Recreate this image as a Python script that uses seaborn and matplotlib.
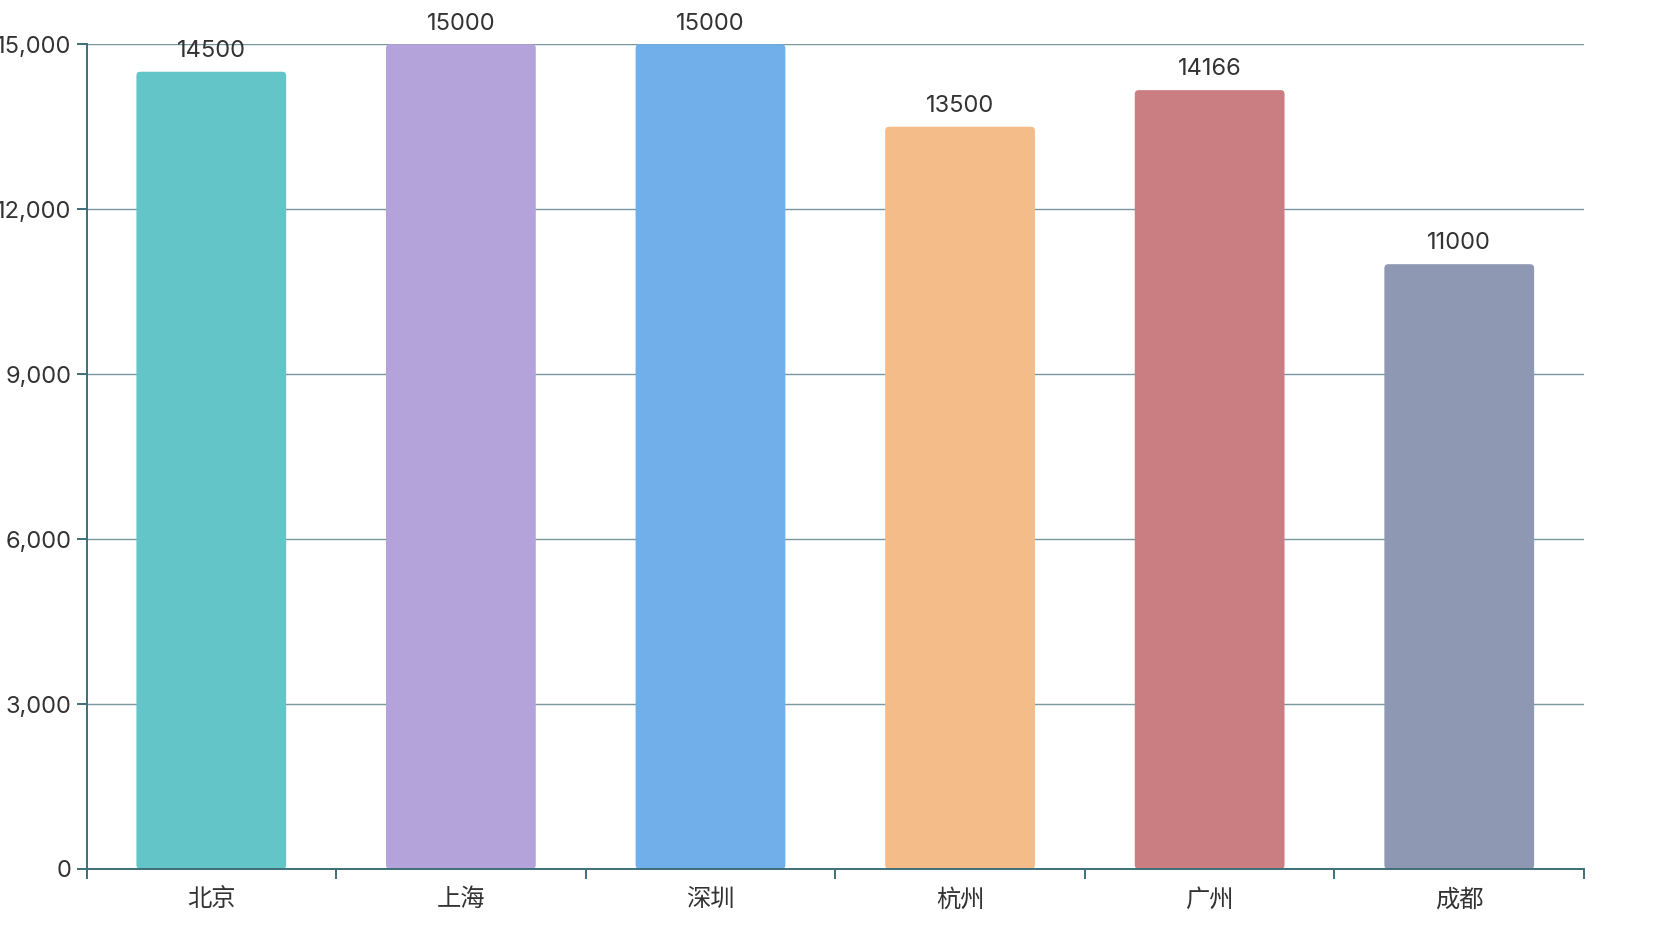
import matplotlib
matplotlib.use("Agg")
import matplotlib.pyplot as plt
import seaborn as sns
import pandas as pd
from matplotlib.ticker import FuncFormatter, MultipleLocator
from matplotlib.patches import FancyBboxPatch

cities = ["北京", "上海", "深圳", "杭州", "广州", "成都"]
values = [14500, 15000, 15000, 13500, 14166, 11000]
colors = ["#63C5C7", "#B4A2DA", "#70AFEA", "#F3BC89", "#CB7E81", "#8E98B2"]

sns.set_theme(style="white")
plt.rcParams["font.family"] = ["Inter", "Noto Sans CJK SC", "DejaVu Sans"]

df = pd.DataFrame({"city": cities, "value": values})

fig = plt.figure(figsize=(16.54, 9.52), dpi=100)
ax = fig.add_axes([0.0523, 0.0872, 0.9054, 0.8663])

sns.barplot(data=df, x="city", y="value", hue="city", palette=colors,
            width=0.6, legend=False, ax=ax, saturation=1, edgecolor="none")

ax.set_ylim(0, 15000)
ax.set_xlim(-0.5, len(cities) - 0.5)
ax.yaxis.set_major_locator(MultipleLocator(3000))
ax.yaxis.set_major_formatter(FuncFormatter(lambda v, p: f"{int(v):,}"))

ax.set_axisbelow(True)
ax.yaxis.grid(True, color="#76989e", linewidth=1.0)
ax.xaxis.grid(False)

for s in ["top", "right"]:
    ax.spines[s].set_visible(False)
for s in ["left", "bottom"]:
    ax.spines[s].set_color("#3d6f78")
    ax.spines[s].set_linewidth(1.4)
    ax.spines[s].set_zorder(5)

ax.set_xticks(range(len(cities)))
ax.set_xticklabels(cities)
ax.set_xticks([i - 0.5 for i in range(len(cities) + 1)], minor=True)
ax.tick_params(axis="x", which="major", length=0, pad=14, labelsize=17.5, labelcolor="#333333")
ax.tick_params(axis="x", which="minor", length=7, width=1.4, color="#3d6f78", direction="out", bottom=True)
ax.tick_params(axis="y", which="major", length=7, width=1.4, color="#3d6f78", left=True,
               labelsize=17, labelcolor="#333333", pad=4)

ax.set_xlabel("")
ax.set_ylabel("")

# rounded corners: replace each bar rectangle with a rounded box of the same geometry
fig.canvas.draw()
x_px_per_unit = ax.transData.transform((1, 0))[0] - ax.transData.transform((0, 0))[0]
y_px_per_unit = ax.transData.transform((0, 1))[1] - ax.transData.transform((0, 0))[1]
radius_px = 4
aspect = x_px_per_unit / y_px_per_unit
for p in list(ax.patches):
    if p.get_height() <= 0:
        continue
    x, y, w, h = p.get_x(), p.get_y(), p.get_width(), p.get_height()
    fb = FancyBboxPatch((x, y), w, h,
                        boxstyle=f"round,pad=0,rounding_size={radius_px / x_px_per_unit}",
                        mutation_aspect=aspect,
                        facecolor=p.get_facecolor(), edgecolor="none", zorder=p.get_zorder(),
                        clip_on=False)
    p.set_visible(False)
    ax.add_patch(fb)

for i, v in enumerate(values):
    ax.annotate(str(v), xy=(i, v), xytext=(0, 7), textcoords="offset points",
                ha="center", va="bottom", fontsize=17, color="#333333",
                annotation_clip=False)

fig.savefig("out.png", dpi=100)
